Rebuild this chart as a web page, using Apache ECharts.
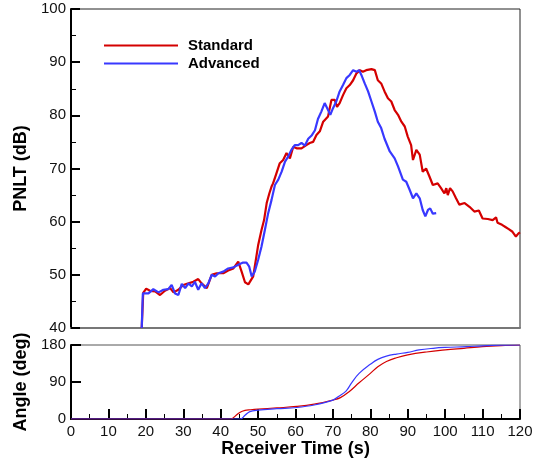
<!DOCTYPE html>
<html><head><meta charset="utf-8">
<script src="https://cdn.jsdelivr.net/npm/echarts@6/dist/echarts.min.js"></script>
<style>html,body{margin:0;padding:0;background:#fff}#c{width:538px;height:461px}</style>
</head><body><div id="c"></div>
<script>
// Standard (red) PNLT
const stdTime = [18.9,19.3,20.1,21.1,22.5,23.8,25.1,26.5,27.4,28.7,30.0,31.4,32.7,34.0,34.9,36.3,37.6,38.9,40.7,42.0,43.4,44.7,45.6,46.5,47.4,47.8,48.7,49.4,50.0,50.9,51.6,52.3,53.0,53.6,54.0,54.9,55.8,56.7,57.6,58.5,59.4,60.3,61.6,62.9,63.8,64.7,65.6,66.5,67.4,68.7,69.6,70.5,71.1,71.8,72.7,73.6,74.5,75.4,76.3,77.2,78.0,78.9,80.3,81.2,82.0,82.9,83.8,84.7,85.6,86.5,87.4,88.3,89.2,90.0,90.9,91.4,92.3,93.2,94.0,94.9,95.8,96.7,98.0,98.9,99.8,100.3,100.7,101.3,102.0,102.9,103.8,105.2,106.5,107.8,109.0,110.0,111.4,112.7,113.6,114.0,115.2,116.1,117.0,118.0,118.9,119.6,120.0];
const stdPnlt = [40,46.6,47.4,47.0,46.9,46.2,47.0,47.5,46.7,47.2,48.1,48.4,48.7,49.2,48.4,47.5,50.0,50.3,50.3,50.8,51.2,52.5,50.6,48.6,48.2,48.3,49.7,52.8,55.5,58.4,60.3,63.5,65.3,66.6,67.2,69.1,71.0,71.6,72.9,71.9,74.1,73.8,73.8,74.4,74.8,75.0,76.3,77.0,78.8,79.8,82.9,82.9,81.6,82.3,83.8,85.1,85.7,86.6,87.9,88.5,88.2,88.5,88.7,88.5,86.6,86.0,84.5,83.2,82.6,81.0,80.1,78.8,77.9,76.0,74.4,71.6,73.5,72.6,69.4,70.0,68.5,66.9,67.2,66.3,65.3,66.3,65.0,66.3,65.7,64.4,63.2,63.5,62.8,61.9,62.1,60.6,60.5,60.3,60.8,59.8,59.4,59.0,58.6,58.1,57.2,57.8,58.0];
// Advanced (blue) PNLT
const advTime = [18.9,19.2,20.7,22.0,23.4,24.7,26.0,26.9,27.8,28.7,29.6,30.5,31.4,32.3,33.1,34.0,34.9,35.8,36.7,37.6,38.5,39.4,40.7,42.0,43.4,44.7,46.0,46.9,47.6,48.3,49.1,50.0,50.9,51.8,52.7,53.6,54.5,55.4,56.3,57.2,58.0,58.9,59.8,60.7,61.6,62.5,63.4,64.3,65.2,66.0,66.9,67.8,68.7,69.3,70.0,70.9,71.8,72.7,73.6,74.5,75.4,76.3,77.0,77.6,78.5,79.4,80.3,81.2,82.0,82.9,83.8,85.2,86.5,87.4,88.7,89.6,90.5,91.4,92.3,93.2,94.0,94.7,95.4,96.0,96.7,97.6];
const advPnlt = [40,46.5,46.5,47.3,46.7,47.2,47.3,48.1,46.5,46.2,48.3,47.5,48.4,47.8,48.7,47.2,48.4,47.5,48.4,50.0,49.7,50.3,50.6,51.2,51.4,51.9,52.3,52.3,51.6,49.7,50.6,52.8,55.3,58.4,61.6,64.1,66.9,67.9,69.4,71.3,72.2,73.5,74.4,74.4,74.8,74.3,75.6,76.2,77.2,79.3,80.7,82.3,81.0,80.1,81.3,82.6,84.5,85.7,87.0,87.6,88.5,88.2,88.5,87.6,86.0,84.5,82.6,80.7,78.8,77.6,75.6,73.2,71.9,70.4,67.9,67.5,66.0,64.4,65.3,64.4,62.2,61.0,62.2,62.5,61.5,61.6];
// Angles
const stdAngTime = [0,42.7,44,45.1,46.5,48,50,55,60.3,65,70,72,74.4,77,80,82,84.3,87,90,95,100,105,110,115,120];
const stdAngle   = [0,0,8,16,21,22.5,24,27,30.5,36,46,52,67,88,111,127,140,149,156,163,168,172,176,178.5,180];
const advAngTime = [0,45.2,46.5,47.8,50,55,60.3,65,70,71.5,73.5,75,77,80,82,84.3,87,90,93,96.8,100,105.7,110,115,120];
const advAngle   = [0,0,9,18,21.6,25,28,34,46,55,68,88,111,133,145,153,158,162,168,172,174,176,178,179.5,180];

const zip = (a,b) => a.map((v,i)=>[v,b[i]]);
const RED = '#d40000', BLUE = '#3838ff';
const FF = 'Liberation Sans, Arial, sans-serif';
const lbl = {fontFamily:FF, fontSize:15, color:'#111'};
const nm = {fontFamily:FF, fontSize:18, fontWeight:'bold', color:'#000'};

const chart = echarts.init(document.getElementById('c'));
chart.setOption({
  animation:false,
  grid:[
    {left:71, top:9, width:449, height:319, show:true, borderColor:'#222', borderWidth:1},
    {left:71, top:345, width:449, height:74, show:true, borderColor:'#555', borderWidth:1}
  ],
  legend:{
    orient:'vertical', left:104, top:38, padding:0, itemWidth:74, itemHeight:2, itemGap:3,
    icon:'rect', data:['Standard','Advanced'],
    textStyle:{fontFamily:FF, fontSize:15, fontWeight:'bold', color:'#000', padding:[0,0,0,5]}
  },
  xAxis:[
    {gridIndex:0, type:'value', min:0, max:120, interval:10,
     axisLine:{lineStyle:{color:'#777', width:2}}, axisTick:{show:false}, axisLabel:{show:false}, splitLine:{show:false}},
    {gridIndex:1, type:'value', min:0, max:120, interval:10,
     axisLine:{lineStyle:{color:'#000', width:2}},
     axisTick:{inside:true, length:10, lineStyle:{color:'#000', width:2}},
     minorTick:{show:true, splitNumber:2, length:5, lineStyle:{color:'#000', width:1}},
     axisLabel:Object.assign({margin:5}, lbl), splitLine:{show:false},
     name:'Receiver Time (s)', nameLocation:'middle', nameGap:20, nameTextStyle:nm}
  ],
  yAxis:[
    {gridIndex:0, type:'value', min:40, max:100, interval:10,
     axisLine:{lineStyle:{color:'#000', width:2}},
     axisTick:{inside:true, length:9, lineStyle:{color:'#000', width:2}},
     minorTick:{show:true, splitNumber:2, length:5, lineStyle:{color:'#000', width:1}},
     axisLabel:Object.assign({margin:5}, lbl), splitLine:{show:false},
     name:'PNLT (dB)', nameLocation:'middle', nameGap:38, nameTextStyle:nm},
    {gridIndex:1, type:'value', min:0, max:180, interval:90,
     axisLine:{lineStyle:{color:'#000', width:2}},
     axisTick:{inside:true, length:10, lineStyle:{color:'#000', width:2}},
     axisLabel:Object.assign({margin:5}, lbl), splitLine:{show:false},
     name:'Angle (deg)', nameLocation:'middle', nameGap:38, nameTextStyle:nm}
  ],
  series:[
    {name:'Standard', type:'line', xAxisIndex:0, yAxisIndex:0, data:zip(stdTime,stdPnlt), showSymbol:false, lineStyle:{color:RED, width:2.2}, itemStyle:{color:RED}},
    {name:'Advanced', type:'line', xAxisIndex:0, yAxisIndex:0, data:zip(advTime,advPnlt), showSymbol:false, lineStyle:{color:BLUE, width:2.2}, itemStyle:{color:BLUE}},
    {name:'Standard', type:'line', xAxisIndex:1, yAxisIndex:1, data:zip(stdAngTime,stdAngle), showSymbol:false, smooth:0.4, lineStyle:{color:RED, width:1.2}, itemStyle:{color:RED}},
    {name:'Advanced', type:'line', xAxisIndex:1, yAxisIndex:1, data:zip(advAngTime,advAngle), showSymbol:false, smooth:0.4, lineStyle:{color:BLUE, width:1.2}, itemStyle:{color:BLUE}}
  ]
});
</script></body></html>
